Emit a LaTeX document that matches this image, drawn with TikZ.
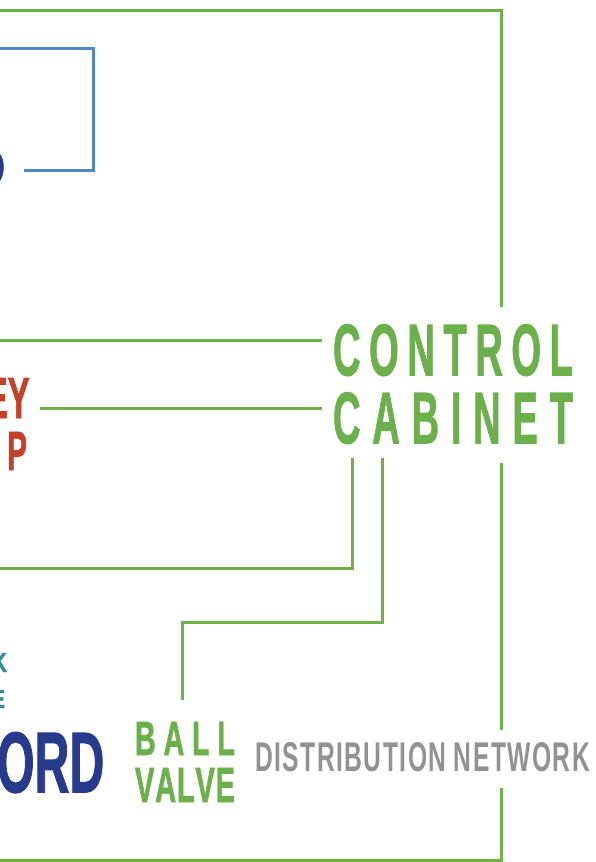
\documentclass[tikz,border=0pt]{standalone}
\usepackage{fontspec}
\usepackage{graphicx}
\setmainfont{Liberation Sans}
\newfontfamily\heavy{Liberation Sans Bold}[FakeBold=1.6]
\newfontfamily\medium{Liberation Sans Bold}[LetterSpace=6]
\definecolor{lgreen}{RGB}{112,178,74}
\definecolor{tgreen}{RGB}{108,176,76}
\definecolor{lblue}{RGB}{78,134,196}
\definecolor{navy}{RGB}{40,58,140}
\definecolor{rred}{RGB}{196,64,40}
\definecolor{tgray}{RGB}{146,146,146}
\definecolor{teal}{RGB}{46,140,156}
\newcommand{\fitword}[4]{\resizebox{#1}{#2}{\fontsize{#3}{#3}\selectfont\heavy #4}}
\newcommand{\fitlight}[4]{\resizebox{#1}{#2}{\fontsize{#3}{#3}\selectfont\medium #4}}
\tikzset{
  word/.style={inner sep=0pt, outer sep=0pt, anchor=south west},
  gline/.style={draw=lgreen, line width=3pt, line cap=butt, line join=miter},
  bline/.style={draw=lblue, line width=3pt, line join=miter}
}
\begin{document}
\begin{tikzpicture}[x=1pt,y=-1pt]
\useasboundingbox (0,0) rectangle (596,862);
% texts
\node[word, text=tgreen] (control) at (333,376)
  {\fitword{240pt}{51pt}{70pt}{\makebox[440pt][s]{C\hfill O\hfill N\hfill T\hfill R\hfill O\hfill L}}};
\node[word, text=tgreen] (cabinet) at (333,444)
  {\fitword{240pt}{51pt}{70pt}{\makebox[440pt][s]{C\hfill A\hfill B\hfill I\hfill N\hfill E\hfill T}}};
\node[word, text=tgreen] (ball) at (135,755)
  {\fitword{100pt}{33pt}{46pt}{\makebox[160pt][s]{B\hfill A\hfill L\hfill L}}};
\node[word, text=tgreen] (valve) at (135,802)
  {\fitword{100pt}{34pt}{46pt}{\makebox[158pt][s]{V\hfill A\hfill L\hfill V\hfill E}}};
\node[word, text=tgray] (dist) at (255,772)
  {\fitlight{335pt}{29pt}{40pt}{DISTRIBUTION\hspace{0.3em}NETWORK}};
\node[word, text=navy] (ord) at (-3,793)
  {\fitword{100pt}{60pt}{70pt}{\makebox[145pt][s]{O\hfill R\hfill D}}};
\node[word, text=navy] (d) at (-22,185)
  {\fitword{27pt}{35pt}{50pt}{D}};
\node[word, text=rred] (ey) at (-14,418)
  {\fitword{42pt}{40pt}{56pt}{\makebox[72pt][s]{E\hfill Y}}};
\node[word, text=rred] (p) at (7,470)
  {\fitword{20pt}{38pt}{53pt}{P}};
\node[word, text=teal] (k) at (-8,672)
  {\fitword{15pt}{19pt}{26pt}{K}};
\node[word, text=teal] (e) at (-9,708)
  {\fitword{14pt}{18pt}{25pt}{E}};
% connector end points
\coordinate (tl) at (0,10.5);
\coordinate (tr) at (501,10.5);
\coordinate (ctop) at (501,307);
\coordinate (rmid1) at (501,463);
\coordinate (rmid2) at (501,730);
\coordinate (rlow) at (501,788);
\coordinate (br) at (501,860);
\coordinate (bl) at (0,860);
\coordinate (l1) at (0,340);
\coordinate (c1) at (322,340);
\coordinate (l2) at (40,408);
\coordinate (c2) at (322,408);
\coordinate (v1t) at (352,458);
\coordinate (v1b) at (352,568);
\coordinate (l3) at (0,568);
\coordinate (v2t) at (382,458);
\coordinate (v2b) at (382,622);
\coordinate (bvt) at (182,622);
\coordinate (bvb) at (182,700);
\coordinate (b1) at (0,48);
\coordinate (b2) at (93,48);
\coordinate (b3) at (93,170);
\coordinate (b4) at (24,170);
% connectors
\draw[gline] (tl) -- (tr) -- (ctop);
\draw[gline] (rmid1) -- (rmid2);
\draw[gline] (rlow) -- (br) -- (bl);
\draw[gline] (l1) -- (c1);
\draw[gline] (l2) -- (c2);
\draw[gline] (v1t) -- (v1b) -- (l3);
\draw[gline] (v2t) -- (v2b) -- (bvt) -- (bvb);
\draw[bline] (b1) -- (b2) -- (b3) -- (b4);
\end{tikzpicture}
\end{document}
